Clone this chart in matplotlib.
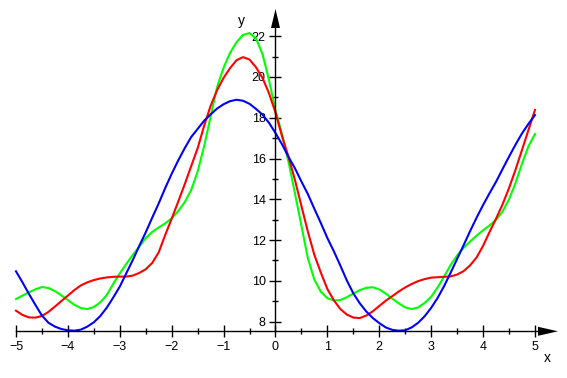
import matplotlib
matplotlib.use('Agg')
from matplotlib import pyplot as plt
from matplotlib.patches import Polygon

xs = [i / 8 for i in range(-40, 41)]

blue = [10.47, 9.93, 9.36, 8.82, 8.3, 7.95, 7.76, 7.64,
        7.58, 7.56, 7.61, 7.76, 7.97, 8.28, 8.69, 9.19,
        9.72, 10.37, 11.02, 11.71, 12.38, 13.1, 13.8, 14.55,
        15.25, 15.9, 16.5, 17.05, 17.45, 17.85, 18.16, 18.45,
        18.66, 18.81, 18.88, 18.83, 18.68, 18.43, 18.15, 17.75,
        17.25,
        16.7, 16.08, 15.52, 14.87, 14.25, 13.53, 12.83, 12.1,
        11.45, 10.75, 10.02, 9.39, 8.9, 8.5, 8.18, 7.93,
        7.72, 7.6, 7.56, 7.58, 7.72, 7.95, 8.27, 8.68,
        9.17, 9.75, 10.4, 11.08, 11.75, 12.44, 13.1, 13.72,
        14.3, 14.86, 15.48, 16.09, 16.68, 17.23, 17.7, 18.13]

red = [8.54, 8.33, 8.21, 8.2, 8.28, 8.48, 8.74, 9.01,
       9.28, 9.55, 9.78, 9.93, 10.04, 10.12, 10.17, 10.2,
       10.21, 10.21, 10.26, 10.39, 10.57, 10.88, 11.4, 12.25,
       13.05, 13.88, 14.73, 15.62, 16.5, 17.6, 18.58, 19.35,
       19.95, 20.43, 20.82, 20.97, 20.85, 20.47, 19.95, 19.2,
       18.25,
       17.1, 16.09, 14.95, 13.67, 12.4, 11.27, 10.4, 9.6,
       9.05, 8.62, 8.35, 8.2, 8.18, 8.3, 8.51, 8.77,
       9.03, 9.25, 9.48, 9.68, 9.85, 9.99, 10.09, 10.16,
       10.18, 10.2, 10.22, 10.31, 10.48, 10.76, 11.15, 11.72,
       12.4, 13.05, 13.75, 14.55, 15.45, 16.42, 17.4, 18.38]

green = [9.11, 9.28, 9.44, 9.59, 9.7, 9.65, 9.5, 9.29,
         9.06, 8.83, 8.67, 8.62, 8.72, 8.95, 9.31, 9.86,
         10.37, 10.83, 11.27, 11.68, 12.1, 12.4, 12.62, 12.82,
         13.07, 13.42, 13.85, 14.45, 15.35, 16.6, 18.05, 19.5,
         20.45, 21.18, 21.7, 22.06, 22.15, 21.88, 21.12, 19.85,
         18.35,
         17.2, 15.85, 14.3, 12.7, 11.1, 10.05, 9.47, 9.15,
         9.04, 9.06, 9.2, 9.38, 9.55, 9.66, 9.69, 9.58,
         9.38, 9.13, 8.9, 8.7, 8.62, 8.7, 8.92, 9.22,
         9.68, 10.22, 10.78, 11.25, 11.62, 11.93, 12.22, 12.48,
         12.72, 13.0, 13.4, 14.0, 14.8, 15.75, 16.6, 17.2]

xticks = [-5, -4, -3, -2, -1, 0, 1, 2, 3, 4, 5]
yticks = [8, 10, 12, 14, 16, 18, 20, 22]

W, H = 567, 378
fig = plt.figure(figsize=(W / 100, H / 100), dpi=100)
ax = fig.add_axes([0, 0, 1, 1])
ax.set_xlim(-5.308, 5.617)
ax.set_ylim(5.24, 23.77)
ax.patch.set_visible(False)

ybase = 7.53
for s in ['top', 'right']:
    ax.spines[s].set_visible(False)
ax.spines['left'].set_position(('data', 0))
ax.spines['bottom'].set_position(('data', ybase))
ax.spines['left'].set_bounds(ybase, 22.5)
ax.spines['bottom'].set_bounds(-5, 5.2)
for s in ['left', 'bottom']:
    ax.spines[s].set_linewidth(1.0)

ax.set_xticks(xticks)
ax.set_xticks([v + 0.5 for v in xticks[:-1]], minor=True)
ax.set_yticks(yticks)
ax.set_yticks([v + 1 for v in yticks[:-1]], minor=True)
ax.tick_params(which='major', direction='inout', length=8, width=1, labelsize=9, pad=3)
ax.tick_params(which='minor', direction='inout', length=4, width=1)
for lab in ax.get_xticklabels() + ax.get_yticklabels():
    lab.set_family('Liberation Sans')

ax.plot(xs, green, color='#00ff00', lw=1.5)
ax.plot(xs, red, color='#ff0000', lw=1.5)
ax.plot(xs, blue, color='#0000ff', lw=1.5)


# arrow heads on the axes (pixel positions turned to figure fractions)
def pxpoly(pts):
    return Polygon([(px / W, 1 - py / H) for px, py in pts], closed=True,
                   transform=fig.transFigure, color='black', lw=0)


fig.patches.append(pxpoly([(275.5, 9), (271, 28), (280, 28)]))
fig.patches.append(pxpoly([(558, 331.3), (538, 326.8), (538, 335.8)]))

fig.text(547 / W, 1 - 358 / H, 'x', ha='center', va='center', fontsize=10, family='Liberation Sans')
fig.text(241 / W, 1 - 21 / H, 'y', ha='center', va='center', fontsize=10, family='Liberation Sans')

fig.savefig('out.png', dpi=100)
